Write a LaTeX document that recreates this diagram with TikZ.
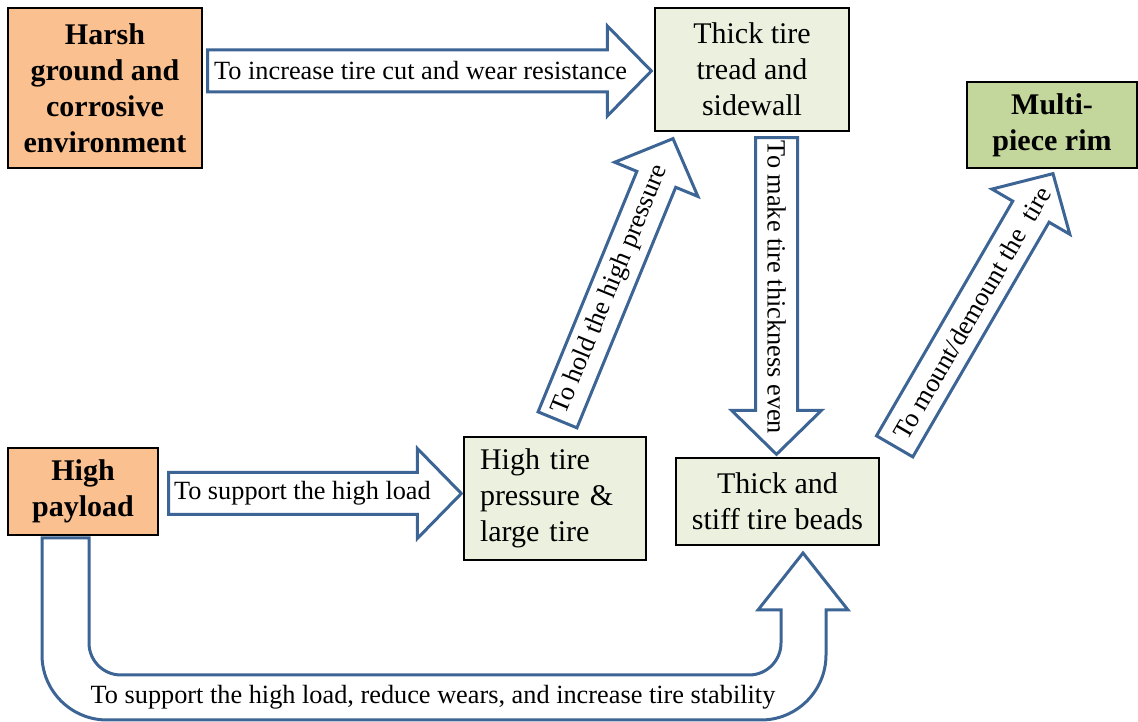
\documentclass[tikz,border=0pt]{standalone}
\usepackage{fontspec}
\setmainfont{Liberation Serif}
\usetikzlibrary{calc}
\definecolor{orangefill}{HTML}{FAC090}
\definecolor{lightfill}{HTML}{EBF1DE}
\definecolor{greenfill}{HTML}{C3D69B}
\definecolor{arrowblue}{HTML}{3C6494}
\tikzset{
  box/.style={draw=black, line width=1.3pt, inner sep=0pt, align=center,
    font=\fontsize{30}{36}\selectfont},
  causebox/.style={box, fill=orangefill, font=\fontsize{30}{36}\selectfont\bfseries},
  effectbox/.style={box, fill=lightfill},
  rimbox/.style={box, fill=greenfill, font=\fontsize{30}{36}\selectfont\bfseries},
  arrowbody/.style={draw=arrowblue, line width=3pt, fill=white, line join=miter},
  arrowlabel/.style={font=\fontsize{26.3}{30}\selectfont, inner sep=0pt},
}
\newcommand\blockarr[4]{%
  \coordinate (ba-C) at ($(#2)!44pt!(#1)$);
  \draw[arrowbody] ($(#1)!21pt!-90:(#2)$) -- ($(ba-C)!21pt!-90:(#2)$)
    -- ($(ba-C)!45pt!-90:(#2)$) -- (#2) -- ($(ba-C)!45pt!90:(#2)$)
    -- ($(ba-C)!21pt!90:(#2)$) -- ($(#1)!21pt!90:(#2)$) -- cycle;
  \path (#1) -- (#2) node[arrowlabel, sloped, allow upside down, pos=#3] {#4};
}
\begin{document}
\begin{tikzpicture}[x=1pt, y=1pt]
\useasboundingbox (0,0) rectangle (1138,722);

% boxes
\node[causebox, minimum width=194pt, minimum height=160pt] (harsh) at (105,634)
  {Harsh\\ground and\\corrosive\\environment};
\node[effectbox, minimum width=194pt, minimum height=123pt] (tread) at (752,652.5)
  {Thick tire\\tread and\\sidewall};
\node[rimbox, minimum width=170pt, minimum height=86pt] (rim) at (1052,597)
  {Multi-\\piece rim};
\node[causebox, minimum width=150pt, minimum height=87pt] (payload) at (83,230.5)
  {High\\payload};
\node[effectbox, minimum width=182pt, minimum height=123pt, text width=150pt, align=left] (pressure) at (555,223.5)
  {High tire\\pressure \&\\large tire};
\node[effectbox, minimum width=203pt, minimum height=87pt] (beads) at (777.5,220.5)
  {Thick and\\stiff tire beads};

% arrow end points
\coordinate (a1t) at ($(harsh.east)+(5,17)$);
\coordinate (a1h) at ($(tread.west)+(-3,-1.5)$);
\coordinate (a2t) at ($(payload.east)+(10,-2)$);
\coordinate (a2h) at ($(pressure.west)+(-2,5)$);
\coordinate (a3t) at ($(tread.south)+(24.5,-6)$);
\coordinate (a3h) at ($(beads.north)+(-1,3)$);
\coordinate (a4t) at ($(pressure.north)+(2.5,16.5)$);
\coordinate (a4h) at ($(tread.south)+(-79,-7)$);
\coordinate (a5t) at ($(beads.north east)+(15,11)$);
\coordinate (a5h) at ($(rim.south)+(1,-5)$);

\blockarr{a1t}{a1h}{0.48}{To increase tire cut and wear resistance}
\blockarr{a2t}{a2h}{0.457}{To support the high load}
\blockarr{a3t}{a3h}{0.473}{To make tire thickness even}
\blockarr{a4t}{a4h}{0.462}{To hold the high pressure}
\blockarr{a5t}{a5h}{0.489}{To mount/demount the\ \ tire}

% U-shaped arrow from payload to beads
\draw[arrowbody] (42,184) -- (42,67) arc[start angle=180, end angle=270, radius=65pt]
  -- (761,2) arc[start angle=270, end angle=360, radius=65pt]
  -- (826,112) -- (848,112) -- (803,169) -- (758,112) -- (781,112)
  -- (781,79) arc[start angle=0, end angle=-90, radius=32pt]
  -- (121,47) arc[start angle=270, end angle=180, radius=32pt]
  -- (89,184) -- cycle;
\node[arrowlabel] (ulabel) at (433,25)
  {To support the high load, reduce wears, and increase tire stability};
\end{tikzpicture}
\end{document}
